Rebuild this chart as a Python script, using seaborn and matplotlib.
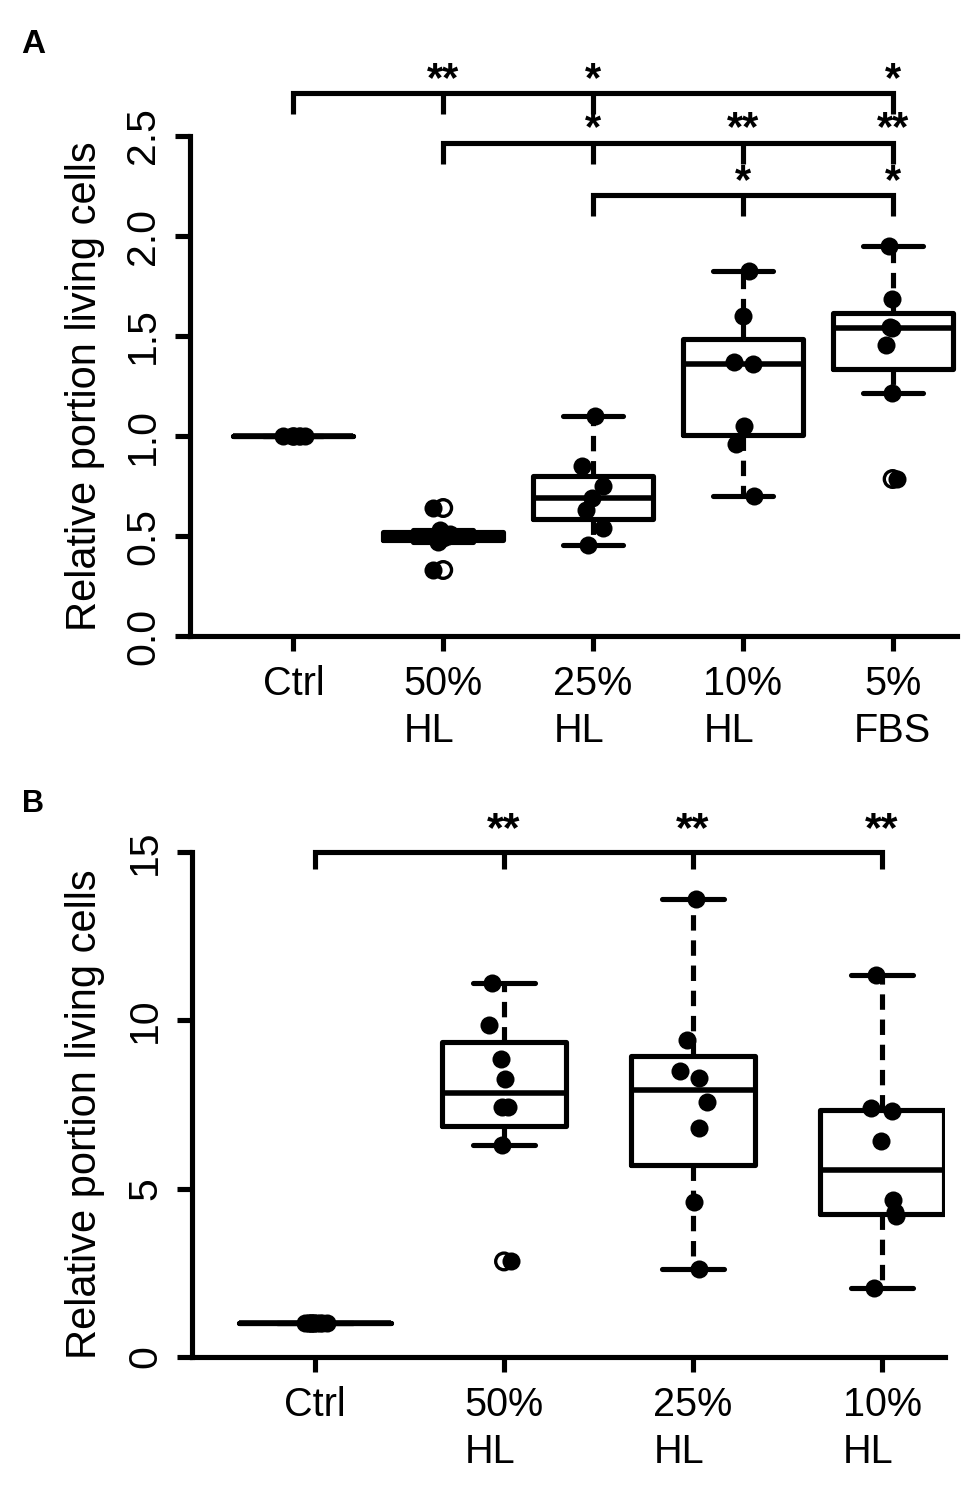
import numpy as np
import pandas as pd
import matplotlib
matplotlib.use('Agg')
from matplotlib import pyplot as plt
import seaborn as sns

np.random.seed(7)

# ---- panel A data (relative portion of living cells) ----
groups_a = ['Ctrl', '50%\nHL', '25%\nHL', '10%\nHL', '5%\nFBS']
ctrl_a = [1.0, 1.0, 1.0, 1.0, 1.0, 1.0, 1.0]
hl50_a = [0.33, 0.47, 0.49, 0.50, 0.51, 0.53, 0.64]
hl25_a = [0.455, 0.54, 0.63, 0.69, 0.75, 0.85, 1.10]
hl10_a = [0.70, 0.96, 1.05, 1.36, 1.37, 1.60, 1.826]
fbs5_a = [0.785, 1.217, 1.457, 1.54, 1.545, 1.685, 1.95]
yticks_a = [0.0, 0.5, 1.0, 1.5, 2.0, 2.5]
yticklabels_a = ['0.0', '0.5', '1.0', '1.5', '2.0', '2.5']

# ---- panel B data ----
groups_b = ['Ctrl', '50%\nHL', '25%\nHL', '10%\nHL']
ctrl_b = [1.0] * 12
hl50_b = [2.84, 6.30, 7.42, 7.42, 8.27, 8.86, 9.85, 11.1]
hl25_b = [2.62, 4.61, 6.80, 7.58, 8.30, 8.49, 9.42, 13.6]
hl10_b = [2.05, 4.20, 4.30, 4.67, 6.42, 7.30, 7.40, 11.35]
yticks_b = [0, 5, 10, 15]
yticklabels_b = ['0', '5', '10', '15']

# significance brackets: groups with a tick, stars per group
brackets_a = [
    (['Ctrl', '50%\nHL', '25%\nHL', '5%\nFBS'], ['', '**', '*', '*']),
    (['50%\nHL', '25%\nHL', '10%\nHL', '5%\nFBS'], ['', '*', '**', '**']),
    (['25%\nHL', '10%\nHL', '5%\nFBS'], ['', '*', '*']),
]
brackets_b = [
    (['Ctrl', '50%\nHL', '25%\nHL', '10%\nHL'], ['', '**', '**', '**']),
]

LW = 3.7


def r_boxstats(values):
    # Tukey hinges like R's boxplot()
    v = np.sort(np.asarray(values, float))
    n = v.size
    n4 = np.floor((n + 3) / 2) / 2
    d = np.array([1, n4, (n + 1) / 2, n + 1 - n4, n]) - 1
    h = 0.5 * (v[np.floor(d).astype(int)] + v[np.ceil(d).astype(int)])
    iqr = h[3] - h[1]
    keep = (v >= h[1] - 1.5 * iqr - 1e-9) & (v <= h[3] + 1.5 * iqr + 1e-9)
    inside = v[keep]
    return [inside.min(), h[1], h[2], h[3], inside.max()], list(v[~keep])


def draw_panel(ax, groups, series, yticks, yticklabels, brackets,
               levels, drop, star_size, star_dy):
    counts = [len(s) for s in series]
    pts = pd.DataFrame({'group': np.repeat(groups, counts),
                        'value': np.concatenate(series)})
    outl_g, outl_v = [], []
    for g, s in zip(groups, series):
        summary, outl = r_boxstats(s)
        w = 0.8 * np.sqrt(len(s) / max(counts))
        sns.boxplot(x=[g] * 5, y=summary, order=groups, width=w, fill=False,
                    color='black', linewidth=LW, whis=1.5, showfliers=False,
                    whiskerprops=dict(linestyle=(0, (3.0, 1.9))),
                    medianprops=dict(linewidth=LW + 0.3), ax=ax)
        outl_g += [g] * len(outl)
        outl_v += outl

    sns.stripplot(data=pts, x='group', y='value', order=groups, jitter=0.08,
                  color='black', size=13, linewidth=0, zorder=4, ax=ax)
    if outl_v:
        sns.stripplot(x=outl_g, y=outl_v, order=groups, jitter=False,
                      color='black', facecolors='none', edgecolor='black',
                      linewidth=2.4, size=12, zorder=5, ax=ax)

    for (names, stars), y in zip(brackets, levels):
        xs = [groups.index(n) for n in names]
        ax.plot([xs[0], xs[0], xs[-1], xs[-1]], [y - drop, y, y, y - drop],
                color='black', lw=LW, clip_on=False, solid_capstyle='butt',
                solid_joinstyle='miter')
        for x in xs[1:-1]:
            ax.plot([x, x], [y, y - drop], color='black', lw=LW,
                    clip_on=False, solid_capstyle='butt')
        for x, s in zip(xs, stars):
            if s:
                ax.annotate(s, xy=(x, y), xytext=(0, star_dy),
                            textcoords='offset points', ha='center',
                            va='baseline', fontsize=star_size,
                            fontweight='bold', annotation_clip=False)

    ax.set_yticks(yticks)
    ax.set_yticklabels(yticklabels)
    ax.set_xlabel('')
    ax.set_ylabel('Relative portion living cells', fontsize=30)
    for side in ['top', 'right']:
        ax.spines[side].set_visible(False)
    for side in ['left', 'bottom']:
        ax.spines[side].set_linewidth(LW)
    ax.tick_params(axis='both', length=11, width=LW, direction='out')
    ax.tick_params(axis='x', labelsize=28.5, pad=10)
    ax.tick_params(axis='y', labelsize=29.5, pad=9, labelrotation=90)
    for lab in ax.get_yticklabels():
        lab.set_va('center')
    for lab in ax.get_xticklabels():
        lab.set_linespacing(1.3)
        if 'HL' in lab.get_text():
            lab.set_multialignment('left')


sns.set_style('ticks')
plt.rcParams['font.family'] = ['Liberation Sans', 'DejaVu Sans']
plt.rcParams.update({'axes.edgecolor': 'black', 'xtick.color': 'black',
                     'ytick.color': 'black', 'text.color': 'black',
                     'axes.labelcolor': 'black'})

fig = plt.figure(figsize=(9.75, 14.87), dpi=100)

ax_a = fig.add_axes([0.1949, 0.5723, 0.7867, 0.3362])
draw_panel(ax_a, groups_a, [ctrl_a, hl50_a, hl25_a, hl10_a, fbs5_a],
           yticks_a, yticklabels_a, brackets_a,
           levels=[2.716, 2.467, 2.203], drop=0.105, star_size=30, star_dy=1.5)
ax_a.set_xlim(-0.69, 4.43)
ax_a.set_ylim(0, 2.5)
ax_a.yaxis.set_label_coords(-0.111, 0.5)

ax_b = fig.add_axes([0.1969, 0.0874, 0.7723, 0.3396])
draw_panel(ax_b, groups_b, [ctrl_b, hl50_b, hl25_b, hl10_b],
           yticks_b, yticklabels_b, brackets_b,
           levels=[15.0], drop=0.5, star_size=31, star_dy=8)
ax_b.set_xlim(-0.651, 3.333)
ax_b.set_ylim(0, 15)
ax_b.yaxis.set_label_coords(-0.1155, 0.48)

fig.text(21 / 975, 1 - 53 / 1487, 'A', fontsize=24, fontweight='bold')
fig.text(22 / 975, 1 - 812 / 1487, 'B', fontsize=22, fontweight='bold')

fig.savefig('out.png', dpi=100)
